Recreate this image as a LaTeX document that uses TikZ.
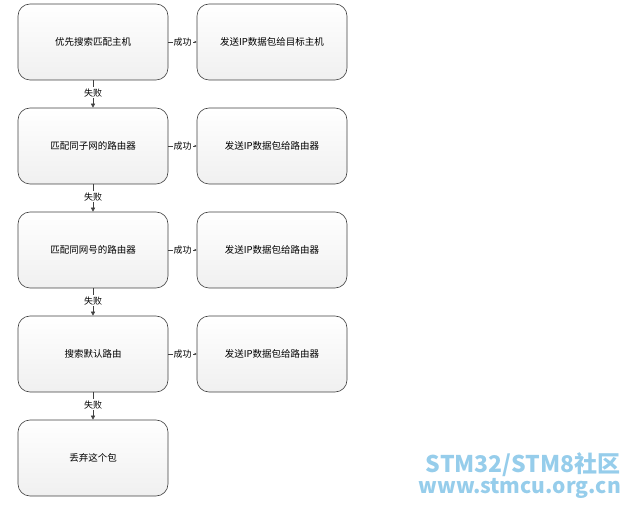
\documentclass[tikz,border=0pt]{standalone}
\usepackage{fontspec}
\setmainfont{Noto Sans CJK SC}
\usetikzlibrary{arrows.meta}
\definecolor{wm}{RGB}{150,205,235}
\begin{document}
\begin{tikzpicture}[x=1pt,y=-1pt,
  box/.style={draw=black!75,line width=0.6pt,rounded corners=12pt,minimum width=150pt,minimum height=76pt,
    top color=white,bottom color=black!6,font=\fontsize{9.5}{11}\selectfont,inner sep=0pt},
  lab/.style={fill=white,inner sep=1pt,font=\fontsize{9}{10}\selectfont},
  con/.style={draw=black!75,line width=0.5pt,-{Triangle[length=4pt,width=4pt]}}]
\useasboundingbox (0,0) rectangle (629,510);
\foreach \i/\l/\r in {0/优先搜索匹配主机/发送IP数据包给目标主机,1/匹配同子网的路由器/发送IP数据包给路由器,2/匹配同网号的路由器/发送IP数据包给路由器,3/搜索默认路由/发送IP数据包给路由器}{
  \node[box] (L\i) at (93,{42+104*\i}) {\l};
  \node[box] (R\i) at (272,{42+104*\i}) {\r};
  \draw[con,-{Triangle[length=2pt,width=2pt]}] (L\i.east) -- node[lab]{成功} (R\i.west);
}
\node[box] (L4) at (93,458) {丢弃这个包};
\foreach \a/\b in {0/1,1/2,2/3,3/4}{
  \draw[con] (L\a.south) -- node[lab,pos=0.45]{失败} (L\b.north);
}
\node[font=\fontsize{23}{24}\bfseries,text=wm,anchor=east,inner sep=0pt] (w1) at (621,465) {STM32/STM8社区};
\node[font=\fontsize{21}{22}\bfseries,text=wm,anchor=east,inner sep=0pt] (w2) at (621,488) {www.stmcu.org.cn};
\end{tikzpicture}
\end{document}
